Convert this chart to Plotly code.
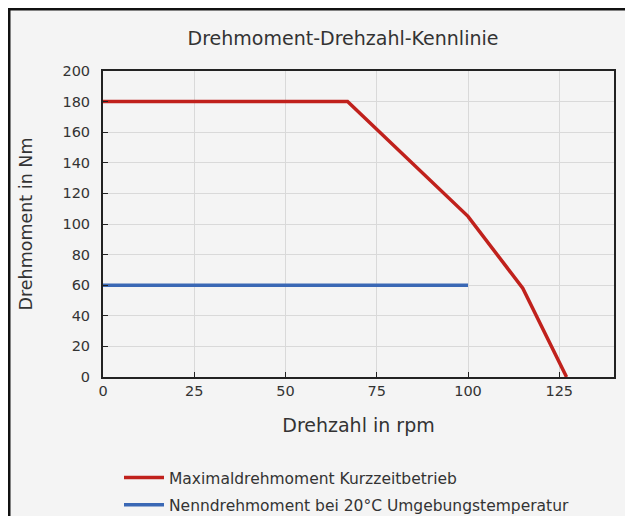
import plotly.graph_objects as go

# Data
red_name = "Maximaldrehmoment Kurzzeitbetrieb"
red_x = [0, 67, 100, 115, 127]
red_y = [180, 180, 105, 58, 0]

blue_name = "Nenndrehmoment bei 20°C Umgebungstemperatur"
blue_x = [0, 100]
blue_y = [60, 60]

x_ticks = [0, 25, 50, 75, 100, 125]
y_ticks = [0, 20, 40, 60, 80, 100, 120, 140, 160, 180, 200]

W, H = 633, 516
OFF = 8  # page body margin
# target plot area in page pixels
PL, PR, PT, PB = 103, 614, 71, 377
PW = PR - PL
PH = PB - PT
ML = PL - OFF
MT = PT - OFF
MR = W - ML - PW
MB = H - MT - PH

def px_x(p):
    return (p - PL) / PW

def px_y(p):
    return (PB - p) / PH

FONT = "DejaVu Sans"
TXT = "#333333"

fig = go.Figure()
fig.add_trace(go.Scatter(x=red_x, y=red_y, mode="lines", name=red_name, legendgroup="a",
                         line=dict(color="#c0211c", width=3.5)))
fig.add_trace(go.Scatter(x=blue_x, y=blue_y, mode="lines", name=blue_name, legendgroup="b",
                         line=dict(color="#3a68b5", width=3.5)))

fig.update_layout(
    width=W, height=H,
    margin=dict(l=ML, r=MR, t=MT, b=MB, autoexpand=False),
    paper_bgcolor="white",
    plot_bgcolor="#f4f4f4",
    font=dict(family=FONT, color=TXT, size=14),
    title=dict(text="Drehmoment-Drehzahl-Kennlinie", x=px_x(343), xref="paper",
               xanchor="center", yref="container", y=1 - (38 - OFF) / H, yanchor="middle",
               font=dict(size=19, color=TXT, family=FONT)),
    showlegend=True,
    legend=dict(orientation="v", x=px_x(119), y=px_y(461), xanchor="left", yanchor="top",
                bgcolor="rgba(0,0,0,0)", font=dict(size=15.5, color=TXT, family=FONT),
                tracegroupgap=4, itemwidth=40),
    xaxis=dict(range=[0, 140], tickvals=x_ticks, showgrid=True, gridcolor="#d9d9d9",
               gridwidth=1, zeroline=False, showline=True, linecolor="#222222", linewidth=2,
               mirror=True, ticks="inside", ticklen=5, tickcolor="#222222",
               tickfont=dict(size=14.5, color=TXT), automargin=False,
               title=dict(text="Drehzahl in rpm", font=dict(size=19, color=TXT), standoff=20)),
    yaxis=dict(range=[0, 200], tickvals=y_ticks, showgrid=True, gridcolor="#d9d9d9",
               gridwidth=1, zeroline=False, showline=True, linecolor="#222222", linewidth=2,
               mirror=True, ticks="inside", ticklen=5, tickcolor="#222222",
               tickfont=dict(size=14.5, color=TXT), ticklabelstandoff=8, automargin=False,
               title=dict(text="Drehmoment in Nm", font=dict(size=17.5, color=TXT), standoff=25)),
    shapes=[
        dict(type="rect", xref="paper", yref="paper", layer="below",
             x0=px_x(9), x1=px_x(680), y0=px_y(560), y1=px_y(9),
             fillcolor="#f4f4f4", line=dict(color="#111111", width=3)),
    ],
)

fig.write_html("out.html")
